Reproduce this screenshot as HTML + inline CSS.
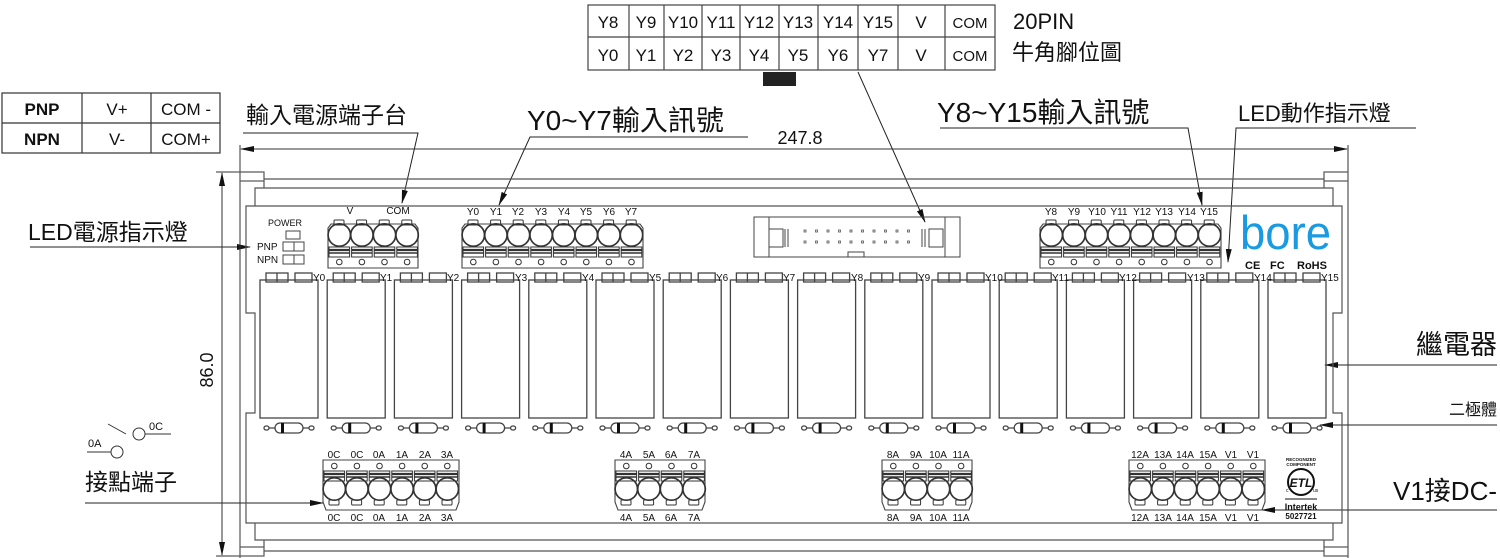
<!DOCTYPE html>
<html><head><meta charset="utf-8">
<style>
html,body{margin:0;padding:0;background:#fff;}
svg{display:block;}
text{font-family:"Liberation Sans","Noto Sans CJK TC",sans-serif;fill:#111;}
.cjk{font-family:"Liberation Sans","Noto Sans CJK TC",sans-serif;}
.s{font-size:10px;text-anchor:middle;}
</style></head><body>
<svg width="1500" height="558" viewBox="0 0 1500 558" xmlns="http://www.w3.org/2000/svg">
<defs>
<marker id="ar" markerWidth="14" markerHeight="8" refX="13" refY="4" orient="auto" markerUnits="userSpaceOnUse">
<path d="M0,1 L14,4 L0,7 Z" fill="#111"/></marker>
<g id="relay" fill="none" stroke="#444" stroke-width="1.3">
<rect x="0" y="280" width="58" height="138"/>
<rect x="6" y="273" width="22" height="9"/><line x1="17" y1="273" x2="17" y2="282"/>
<rect x="35" y="273" width="17" height="9"/>
<line x1="5" y1="428" x2="53" y2="428"/>
<rect x="15" y="423" width="28" height="10" rx="5" fill="#fff"/>
<rect x="21" y="423" width="3" height="10" fill="#111" stroke="none"/>
<rect x="4" y="426" width="5" height="4" rx="2" fill="#fff"/>
<rect x="49" y="426" width="5" height="4" rx="2" fill="#fff"/>
</g>
<g id="tc" fill="none" stroke="#333" stroke-width="1">
<rect x="6" y="220" width="10" height="5" rx="1"/>
<circle cx="11.3" cy="235" r="11.2" stroke-width="1.7"/>
<rect x="1" y="247" width="20.6" height="10"/>
<line x1="1" y1="250" x2="21.6" y2="250" stroke-width="2.2"/>
<line x1="1" y1="253" x2="21.6" y2="253" stroke-width="1.5"/>
<circle cx="11.3" cy="262" r="2.8"/>
</g>
<g id="bc" fill="none" stroke="#333" stroke-width="1">
<circle cx="11.3" cy="466" r="2.8"/>
<rect x="1" y="471" width="20.6" height="10"/>
<line x1="1" y1="474" x2="21.6" y2="474" stroke-width="2.2"/>
<line x1="1" y1="477" x2="21.6" y2="477" stroke-width="1.5"/>
<circle cx="11.3" cy="489" r="11.2" stroke-width="1.7"/>
<rect x="6" y="500" width="10" height="5" rx="1"/>
</g>
</defs>

<g fill="none" stroke="#444" stroke-width="1.2">
<rect x="588" y="5" width="407" height="65"/>
<line x1="588" y1="37" x2="995" y2="37"/>
<line x1="629" y1="5" x2="629" y2="70"/><line x1="664" y1="5" x2="664" y2="70"/>
<line x1="702" y1="5" x2="702" y2="70"/><line x1="740" y1="5" x2="740" y2="70"/>
<line x1="779" y1="5" x2="779" y2="70"/><line x1="818" y1="5" x2="818" y2="70"/>
<line x1="858" y1="5" x2="858" y2="70"/><line x1="898" y1="5" x2="898" y2="70"/>
<line x1="945" y1="5" x2="945" y2="70"/>
</g>
<rect x="763" y="72" width="33" height="14" fill="#222"/>
<g font-size="17" text-anchor="middle">
<text x="608" y="28">Y8</text><text x="646" y="28">Y9</text><text x="683" y="28">Y10</text><text x="721" y="28">Y11</text><text x="759" y="28">Y12</text><text x="798" y="28">Y13</text><text x="838" y="28">Y14</text><text x="878" y="28">Y15</text><text x="921" y="28">V</text><text x="970" y="28" font-size="15">COM</text>
<text x="608" y="61">Y0</text><text x="646" y="61">Y1</text><text x="683" y="61">Y2</text><text x="721" y="61">Y3</text><text x="759" y="61">Y4</text><text x="798" y="61">Y5</text><text x="838" y="61">Y6</text><text x="878" y="61">Y7</text><text x="921" y="61">V</text><text x="970" y="61" font-size="15">COM</text>
</g>
<text x="1013" y="29" font-size="22">20PIN</text>
<text x="1012" y="60" font-size="22" class="cjk">牛角腳位圖</text>

<g fill="none" stroke="#333" stroke-width="1.2">
<rect x="2" y="93" width="218" height="60"/>
<line x1="2" y1="123" x2="220" y2="123"/>
<line x1="82" y1="93" x2="82" y2="153"/><line x1="151" y1="93" x2="151" y2="153"/>
</g>
<g font-size="17" text-anchor="middle">
<text x="42" y="115" font-weight="bold">PNP</text><text x="117" y="115">V+</text><text x="186" y="115">COM -</text>
<text x="42" y="145" font-weight="bold">NPN</text><text x="117" y="145">V-</text><text x="186" y="145">COM+</text>
</g>

<g stroke="#222" stroke-width="1" fill="none">
<polyline points="243,133 418,133 402,203" marker-end="url(#ar)"/>
<polyline points="30,247 250,247" marker-end="url(#ar)"/>
<polyline points="748,137 530,137 499,205" marker-end="url(#ar)"/>
<polyline points="940,128 1188,128 1202,205" marker-end="url(#ar)"/>
<polyline points="1416,128 1236,128 1228,262" marker-end="url(#ar)"/>
<polyline points="858,72 925,222" marker-end="url(#ar)"/>
<polyline points="1497,365 1325,365" marker-end="url(#ar)"/>
<polyline points="1497,425 1320,425" marker-end="url(#ar)"/>
<polyline points="1497,510 1262,510" marker-end="url(#ar)"/>
<polyline points="85,503 323,503" marker-end="url(#ar)"/>
</g>
<text x="246" y="123" font-size="23" class="cjk">輸入電源端子台</text>
<text x="28" y="240" font-size="23" class="cjk">LED電源指示燈</text>
<text x="527" y="130" font-size="28" class="cjk">Y0~Y7輸入訊號</text>
<text x="937" y="122" font-size="28" class="cjk">Y8~Y15輸入訊號</text>
<text x="1238" y="121" font-size="22" class="cjk">LED動作指示燈</text>
<text x="1497" y="354" font-size="27" class="cjk" text-anchor="end">繼電器</text>
<text x="1497" y="415" font-size="16" class="cjk" text-anchor="end">二極體</text>
<text x="1497" y="500" font-size="26" class="cjk" text-anchor="end">V1接DC-</text>
<text x="85" y="490" font-size="23" class="cjk">接點端子</text>

<g stroke="#333" stroke-width="1" fill="none">
<line x1="87" y1="452" x2="111" y2="452"/><circle cx="117" cy="452" r="6"/>
<line x1="108" y1="424" x2="126" y2="434"/><circle cx="139" cy="434" r="6"/><line x1="145" y1="434" x2="171" y2="434"/>
</g>
<text x="88" y="447" font-size="11">0A</text><text x="149" y="430" font-size="11">0C</text>

<g stroke="#333" stroke-width="1" fill="none">
<line x1="240" y1="145" x2="240" y2="558"/>
<line x1="1348" y1="145" x2="1348" y2="558"/>
<line x1="255" y1="149" x2="1333" y2="149"/>
<line x1="270" y1="149" x2="241" y2="149" marker-end="url(#ar)"/>
<line x1="1320" y1="149" x2="1347" y2="149" marker-end="url(#ar)"/>
<line x1="216" y1="172" x2="240" y2="172"/><line x1="216" y1="556" x2="240" y2="556"/>
<line x1="222" y1="200" x2="222" y2="173" marker-end="url(#ar)"/>
<line x1="222" y1="200" x2="222" y2="530"/>
<line x1="222" y1="530" x2="222" y2="555" marker-end="url(#ar)"/>
</g>
<text x="800" y="144" font-size="18" text-anchor="middle">247.8</text>
<text x="0" y="0" font-size="18" text-anchor="middle" transform="translate(213,370) rotate(-90)">86.0</text>

<g fill="none" stroke="#555" stroke-width="1.2">
<path d="M246,206 H1342 V313 H1333 V413 H1342 V523 H246 V413 H255 V313 H246 Z"/>
<path d="M255,206 V188 H1333 V206"/>
<path d="M255,523 V540 H1333 V523"/>
<line x1="264" y1="179" x2="1324" y2="179"/>
<line x1="264" y1="551" x2="1324" y2="551"/>
<rect x="240" y="172" width="24" height="9"/><rect x="1324" y="172" width="24" height="9"/>
<rect x="240" y="547" width="24" height="9"/><rect x="1324" y="547" width="24" height="9"/>
<line x1="264" y1="181" x2="264" y2="188"/><line x1="1324" y1="181" x2="1324" y2="188"/>
<line x1="264" y1="540" x2="264" y2="547"/><line x1="1324" y1="540" x2="1324" y2="547"/>
</g>

<text x="268" y="226" font-size="9">POWER</text>
<g fill="none" stroke="#444" stroke-width="1">
<rect x="286" y="231" width="14" height="8"/>
<rect x="283" y="242" width="21" height="9"/><line x1="294" y1="242" x2="294" y2="251"/>
<rect x="283" y="255" width="21" height="9"/><line x1="294" y1="255" x2="294" y2="264"/>
</g>
<text x="257" y="250" font-size="10">PNP</text><text x="257" y="263" font-size="10">NPN</text>

<g fill="none" stroke="#444" stroke-width="1.1">
<path d="M328,268 V228 L331,224 H415 L418,228 V268 Z"/>
<path d="M462,268 V228 L465,224 H640 L643,228 V268 Z"/>
<path d="M1040,268 V228 L1043,224 H1218 L1221,228 V268 Z"/>
</g>
<use href="#tc" x="328"/><use href="#tc" x="350.6"/><use href="#tc" x="373.2"/><use href="#tc" x="395.8"/>
<use href="#tc" x="462"/><use href="#tc" x="484.6"/><use href="#tc" x="507.2"/><use href="#tc" x="529.8"/><use href="#tc" x="552.4"/><use href="#tc" x="575"/><use href="#tc" x="597.6"/><use href="#tc" x="620.2"/>
<use href="#tc" x="1040"/><use href="#tc" x="1062.6"/><use href="#tc" x="1085.2"/><use href="#tc" x="1107.8"/><use href="#tc" x="1130.4"/><use href="#tc" x="1153"/><use href="#tc" x="1175.6"/><use href="#tc" x="1198.2"/>
<g class="s">
<text x="350" y="214">V</text><text x="398" y="214">COM</text>
<text x="473" y="215">Y0</text><text x="496" y="215">Y1</text><text x="518" y="215">Y2</text><text x="541" y="215">Y3</text><text x="564" y="215">Y4</text><text x="586" y="215">Y5</text><text x="609" y="215">Y6</text><text x="631" y="215">Y7</text>
<text x="1051" y="215">Y8</text><text x="1074" y="215">Y9</text><text x="1097" y="215">Y10</text><text x="1119" y="215">Y11</text><text x="1142" y="215">Y12</text><text x="1164" y="215">Y13</text><text x="1187" y="215">Y14</text><text x="1209" y="215">Y15</text>
</g>

<g fill="none" stroke="#444" stroke-width="1">
<rect x="754" y="217" width="206" height="40"/>
<rect x="769" y="229" width="14" height="18"/><rect x="929" y="229" width="14" height="18"/>
<line x1="785" y1="229" x2="785" y2="247"/><line x1="788" y1="229" x2="788" y2="247"/>
<line x1="925" y1="229" x2="925" y2="247"/><line x1="922" y1="229" x2="922" y2="247"/>
<line x1="769" y1="217" x2="769" y2="257"/><line x1="945" y1="217" x2="945" y2="257"/>
<rect x="848" y="252" width="16" height="5"/>
</g>
<g fill="none" stroke="#555" stroke-width="0.8">
<rect x="804" y="230" width="2" height="2"/><rect x="815.5" y="230" width="2" height="2"/><rect x="827" y="230" width="2" height="2"/><rect x="838.5" y="230" width="2" height="2"/><rect x="850" y="230" width="2" height="2"/><rect x="861.5" y="230" width="2" height="2"/><rect x="873" y="230" width="2" height="2"/><rect x="884.5" y="230" width="2" height="2"/><rect x="896" y="230" width="2" height="2"/><rect x="907.5" y="230" width="2" height="2"/>
<rect x="804" y="241" width="2" height="2"/><rect x="815.5" y="241" width="2" height="2"/><rect x="827" y="241" width="2" height="2"/><rect x="838.5" y="241" width="2" height="2"/><rect x="850" y="241" width="2" height="2"/><rect x="861.5" y="241" width="2" height="2"/><rect x="873" y="241" width="2" height="2"/><rect x="884.5" y="241" width="2" height="2"/><rect x="896" y="241" width="2" height="2"/><rect x="907.5" y="241" width="2" height="2"/>
</g>

<use href="#relay" x="260"/><use href="#relay" x="327.2"/><use href="#relay" x="394.4"/><use href="#relay" x="461.6"/><use href="#relay" x="528.8"/><use href="#relay" x="596"/><use href="#relay" x="663.2"/><use href="#relay" x="730.4"/><use href="#relay" x="797.6"/><use href="#relay" x="864.8"/><use href="#relay" x="932"/><use href="#relay" x="999.2"/><use href="#relay" x="1066.4"/><use href="#relay" x="1133.6"/><use href="#relay" x="1200.8"/><use href="#relay" x="1268"/>
<g font-size="10">
<text x="313" y="281">Y0</text><text x="380" y="281">Y1</text><text x="447" y="281">Y2</text><text x="515" y="281">Y3</text><text x="582" y="281">Y4</text><text x="649" y="281">Y5</text><text x="716" y="281">Y6</text><text x="783" y="281">Y7</text><text x="851" y="281">Y8</text><text x="918" y="281">Y9</text><text x="985" y="281">Y10</text><text x="1052" y="281">Y11</text><text x="1119" y="281">Y12</text><text x="1187" y="281">Y13</text><text x="1254" y="281">Y14</text><text x="1321" y="281">Y15</text>
</g>

<text x="1240" y="249" font-size="47" style="fill:#1a9ae0" textLength="91" lengthAdjust="spacingAndGlyphs">bore</text>
<text x="1245" y="269" font-size="11" font-weight="bold">CE</text>
<text x="1270" y="269" font-size="11" font-weight="bold">FC</text>
<text x="1297" y="269" font-size="11" font-weight="bold">RoHS</text>

<g fill="none" stroke="#444" stroke-width="1.1">
<path d="M323,460 V502 L326,510 H456 L459,502 V460 Z"/>
<path d="M615,460 V502 L618,510 H702 L705,502 V460 Z"/>
<path d="M882,460 V502 L885,510 H969 L972,502 V460 Z"/>
<path d="M1129,460 V502 L1132,510 H1262 L1265,502 V460 Z"/>
</g>
<use href="#bc" x="323"/><use href="#bc" x="345.6"/><use href="#bc" x="368.2"/><use href="#bc" x="390.8"/><use href="#bc" x="413.4"/><use href="#bc" x="436"/>
<use href="#bc" x="615"/><use href="#bc" x="637.6"/><use href="#bc" x="660.2"/><use href="#bc" x="682.8"/>
<use href="#bc" x="882"/><use href="#bc" x="904.6"/><use href="#bc" x="927.2"/><use href="#bc" x="949.8"/>
<use href="#bc" x="1129"/><use href="#bc" x="1151.6"/><use href="#bc" x="1174.2"/><use href="#bc" x="1196.8"/><use href="#bc" x="1219.4"/><use href="#bc" x="1242"/>
<g class="s">
<text x="334" y="458">0C</text><text x="357" y="458">0C</text><text x="379" y="458">0A</text><text x="402" y="458">1A</text><text x="425" y="458">2A</text><text x="447" y="458">3A</text>
<text x="334" y="521">0C</text><text x="357" y="521">0C</text><text x="379" y="521">0A</text><text x="402" y="521">1A</text><text x="425" y="521">2A</text><text x="447" y="521">3A</text>
<text x="626" y="458">4A</text><text x="649" y="458">5A</text><text x="671" y="458">6A</text><text x="694" y="458">7A</text>
<text x="626" y="521">4A</text><text x="649" y="521">5A</text><text x="671" y="521">6A</text><text x="694" y="521">7A</text>
<text x="893" y="458">8A</text><text x="916" y="458">9A</text><text x="938" y="458">10A</text><text x="961" y="458">11A</text>
<text x="893" y="521">8A</text><text x="916" y="521">9A</text><text x="938" y="521">10A</text><text x="961" y="521">11A</text>
<text x="1140" y="458">12A</text><text x="1163" y="458">13A</text><text x="1185" y="458">14A</text><text x="1208" y="458">15A</text><text x="1231" y="458">V1</text><text x="1253" y="458">V1</text>
<text x="1140" y="521">12A</text><text x="1163" y="521">13A</text><text x="1185" y="521">14A</text><text x="1208" y="521">15A</text><text x="1231" y="521">V1</text><text x="1253" y="521">V1</text>
</g>

<text x="1301" y="461" font-size="4.5" text-anchor="middle" font-weight="bold">RECOGNIZED</text>
<text x="1301" y="466" font-size="4.5" text-anchor="middle" font-weight="bold">COMPONENT</text>
<circle cx="1301" cy="482" r="13" fill="none" stroke="#111" stroke-width="2"/>
<text x="1301" y="487" font-size="12" text-anchor="middle" font-weight="bold" font-style="italic">ETL</text>
<text x="1286" y="492" font-size="5">c</text><text x="1313" y="492" font-size="5">us</text>
<line x1="1285" y1="499" x2="1317" y2="499" stroke="#111"/>
<text x="1301" y="510" font-size="9" text-anchor="middle" font-weight="bold">Intertek</text>
<text x="1301" y="519" font-size="8" text-anchor="middle" font-weight="bold">5027721</text>
</svg>
</body></html>
